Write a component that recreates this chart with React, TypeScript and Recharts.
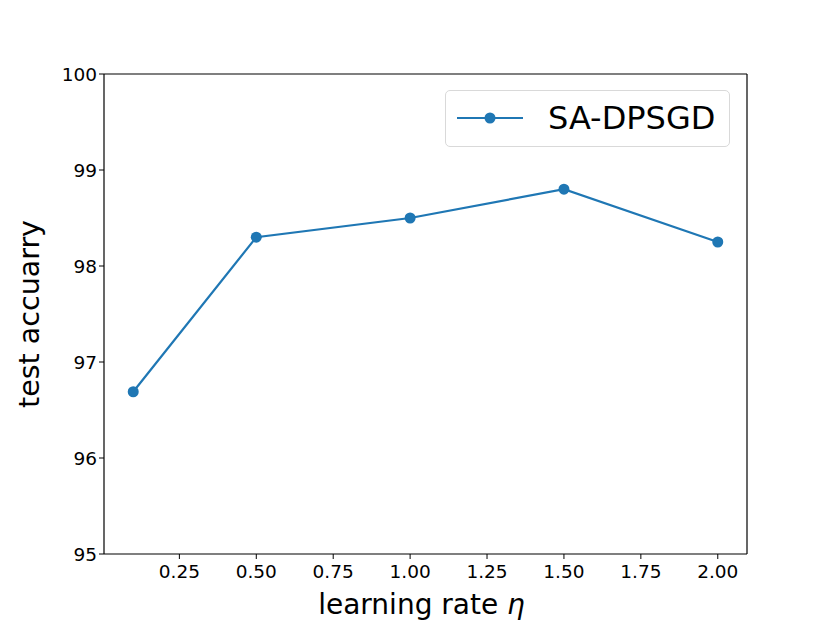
import React from 'react';
import { LineChart, Line, XAxis, YAxis, ReferenceLine } from 'recharts';

const learningRates = [0.1, 0.5, 1.0, 1.5, 2.0];
const accuracy = [96.69, 98.3, 98.5, 98.8, 98.25];
const xTicks = [0.25, 0.5, 0.75, 1.0, 1.25, 1.5, 1.75, 2.0];
const yTicks = [95, 96, 97, 98, 99, 100];
const xDomain: [number, number] = [0.005, 2.095];
const yDomain: [number, number] = [95, 100];

const data = learningRates.map((lr, i) => ({ lr, acc: accuracy[i] }));

const FONT = '"DejaVu Sans", sans-serif';
const BLUE = '#1f77b4';

const XLabel = (props: any) => {
  const { viewBox } = props;
  const cx = viewBox.x + viewBox.width / 2 - 4;
  return (
    <text x={cx} y={viewBox.y + 60} textAnchor="middle" fontSize={28} fontFamily={FONT} fill="#000">
      learning rate <tspan fontStyle="italic">η</tspan>
    </text>
  );
};

const LegendBox = () => (
  <div
    style={{
      position: 'absolute',
      left: 445,
      top: 90,
      width: 285,
      height: 57,
      border: '1.5px solid #d9d9d9',
      borderRadius: 5,
      background: 'rgba(255,255,255,0.8)',
      boxSizing: 'border-box',
      fontFamily: FONT,
    }}
  >
    <svg width={80} height={54} style={{ position: 'absolute', left: 8, top: 0 }}>
      <line x1={3} y1={27} x2={69} y2={27} stroke={BLUE} strokeWidth={2.2} />
      <circle cx={36} cy={27} r={5.5} fill={BLUE} />
    </svg>
    <span style={{ position: 'absolute', left: 102, top: 7, fontSize: 32, lineHeight: '40px', color: '#000' }}>
      SA-DPSGD
    </span>
  </div>
);

export default function App() {
  return (
    <div style={{ position: 'absolute', left: 0, top: 0, width: 830, height: 623, background: '#fff' }}>
      <LineChart width={830} height={623} data={data} margin={{ top: 74, right: 83, bottom: 0, left: 0 }}>
        <XAxis
          dataKey="lr"
          type="number"
          domain={xDomain}
          ticks={xTicks}
          tickFormatter={(v: number) => v.toFixed(2)}
          height={69}
          tickSize={5}
          tickLine={{ stroke: '#000' }}
          axisLine={{ stroke: '#000', strokeWidth: 1.2 }}
          tick={{ fill: '#000', fontSize: 18.5, fontFamily: FONT, dy: 4 }}
          label={<XLabel />}
          allowDataOverflow
        />
        <YAxis
          type="number"
          domain={yDomain}
          ticks={yTicks}
          width={104}
          tickSize={5}
          tickLine={{ stroke: '#000' }}
          axisLine={{ stroke: '#000', strokeWidth: 1.2 }}
          tick={{ fill: '#000', fontSize: 18.5, fontFamily: FONT }}
          label={{ value: 'test accuarry', angle: -90, position: 'insideLeft', dx: 24, fontSize: 28.5, fontFamily: FONT, fill: '#000', style: { textAnchor: 'middle' } }}
          allowDataOverflow
        />
        <ReferenceLine y={yDomain[1]} stroke="#000" strokeWidth={1.2} ifOverflow="visible" />
        <ReferenceLine x={xDomain[1]} stroke="#000" strokeWidth={1.2} ifOverflow="visible" />
        <Line
          dataKey="acc"
          stroke={BLUE}
          strokeWidth={2.2}
          dot={{ r: 5.5, fill: BLUE, stroke: BLUE, strokeWidth: 0 }}
          activeDot={false}
          isAnimationActive={false}
        />
      </LineChart>
      <LegendBox />
    </div>
  );
}
